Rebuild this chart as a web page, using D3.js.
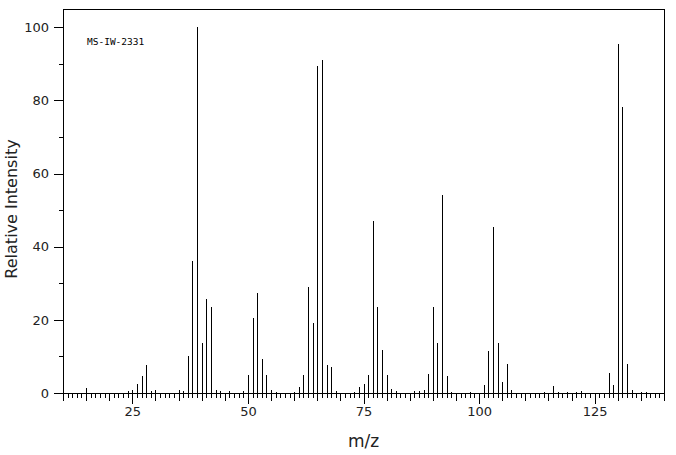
<!DOCTYPE html>
<html>
<head>
<meta charset="utf-8">
<script src="https://cdn.jsdelivr.net/npm/d3@7"></script>
<style>
  body { margin: 0; background: #fff; }
  svg { display: block; font-family: "DejaVu Sans", sans-serif; }
</style>
</head>
<body>
<div id="chart"></div>
<script>
// Mass spectrum MS-IW-2331

// m/z values of the peaks
const mzValues = [15, 24, 25, 26, 27, 28, 29, 30, 35, 36, 37, 38, 39, 40, 41, 42, 43, 44, 46, 49,
                  50, 51, 52, 53, 54, 55, 56, 60, 61, 62, 63, 64, 65, 66, 67, 68, 69,
                  73, 74, 75, 76, 77, 78, 79, 80, 81, 82, 86, 87, 88, 89, 90, 91, 92, 93, 94, 98,
                  101, 102, 103, 104, 105, 106, 107, 114, 116, 117, 119, 121, 122,
                  128, 129, 130, 131, 132, 133, 135, 136];

// relative intensities (%)
const intensities = [1.5, 0.5, 0.7, 2.5, 4.7, 7.7, 0.5, 0.7, 0.7, 0.6, 10.2, 36.1, 100, 13.8, 25.7, 23.6, 0.9, 0.5, 0.5, 0.6,
                     5.0, 20.6, 27.4, 9.4, 5.0, 0.9, 0.4, 0.4, 1.7, 5.0, 29.0, 19.2, 89.4, 91.1, 7.7, 7.0, 0.5,
                     0.4, 1.6, 2.4, 5.0, 47.0, 23.4, 11.8, 5.0, 1.2, 0.5, 0.5, 0.5, 0.8, 5.3, 23.4, 13.8, 54.1, 4.7, 0.4, 0.4,
                     2.3, 11.4, 45.4, 13.8, 3.1, 8.0, 0.9, 0.4, 2.0, 0.4, 0.4, 0.4, 0.5,
                     5.6, 2.3, 95.5, 78.2, 8.0, 0.7, 0.4, 0.4];

const xLabels = [25, 50, 75, 100, 125];
const yLabels = [0, 20, 40, 60, 80, 100];
const title = "MS-IW-2331";

const width = 676, height = 455;
const margin = { top: 9, right: 12, bottom: 62, left: 63 };

const svg = d3.select("#chart").append("svg")
    .attr("width", width)
    .attr("height", height);

const x = d3.scaleLinear()
    .domain([10, 140])
    .range([margin.left, width - margin.right]);

const y = d3.scaleLinear()
    .domain([0, 105])
    .range([height - margin.bottom, margin.top]);

const crisp = v => Math.round(v) + 0.5;

// frame
svg.append("rect")
    .attr("x", crisp(margin.left))
    .attr("y", crisp(margin.top))
    .attr("width", Math.round(width - margin.right) - Math.round(margin.left))
    .attr("height", Math.round(y(0)) - Math.round(margin.top))
    .attr("fill", "none")
    .attr("stroke", "#000")
    .attr("shape-rendering", "crispEdges");

// x axis: tick every unit, longer every 5, longest at labels
const xAxis = d3.axisBottom(x)
    .tickValues(d3.range(10, 141))
    .tickSize(5)
    .tickFormat(d => xLabels.includes(d) ? d : "");

const gx = svg.append("g")
    .attr("transform", `translate(0,${Math.round(y(0))})`)
    .call(xAxis);
gx.select(".domain").remove();
gx.selectAll(".tick line")
    .attr("y2", d => d % 25 === 0 ? 11 : d % 5 === 0 ? 8 : 5)
    .attr("shape-rendering", "crispEdges");
gx.selectAll(".tick text")
    .attr("y", 14)
    .attr("font-size", 13)
    .attr("font-family", "DejaVu Sans, sans-serif")
    .attr("fill", "#222");

// y axis
const yAxis = d3.axisLeft(y)
    .tickValues(d3.range(0, 101, 10))
    .tickSize(4)
    .tickFormat(d => yLabels.includes(d) ? d : "");

const gy = svg.append("g")
    .attr("transform", `translate(${Math.round(margin.left)},0)`)
    .call(yAxis);
gy.select(".domain").remove();
gy.selectAll(".tick line")
    .attr("x2", d => d % 20 === 0 ? -9 : -4)
    .attr("shape-rendering", "crispEdges");
gy.selectAll(".tick text")
    .attr("x", -14)
    .attr("font-size", 13)
    .attr("font-family", "DejaVu Sans, sans-serif")
    .attr("fill", "#222");

// peaks
const peaks = mzValues.map((m, i) => ({ mz: m, value: intensities[i] }));

svg.append("g")
    .selectAll("line")
    .data(peaks)
    .join("line")
    .attr("x1", d => crisp(x(d.mz)))
    .attr("x2", d => crisp(x(d.mz)))
    .attr("y1", Math.round(y(0)))
    .attr("y2", d => Math.round(y(d.value)))
    .attr("stroke", "#000")
    .attr("stroke-width", 1)
    .attr("shape-rendering", "crispEdges");

// labels
svg.append("text")
    .attr("x", 87)
    .attr("y", 45)
    .attr("font-family", "DejaVu Sans Mono, monospace")
    .attr("font-size", 9.5)
    .text(title);

svg.append("text")
    .attr("x", (margin.left + width - margin.right) / 2)
    .attr("y", 447)
    .attr("text-anchor", "middle")
    .attr("font-size", 17)
    .attr("fill", "#222")
    .text("m/z");

svg.append("text")
    .attr("transform", `translate(17,${(margin.top + y(0)) / 2 + 8}) rotate(-90)`)
    .attr("text-anchor", "middle")
    .attr("font-size", 16)
    .attr("fill", "#222")
    .text("Relative Intensity");
</script>
</body>
</html>
